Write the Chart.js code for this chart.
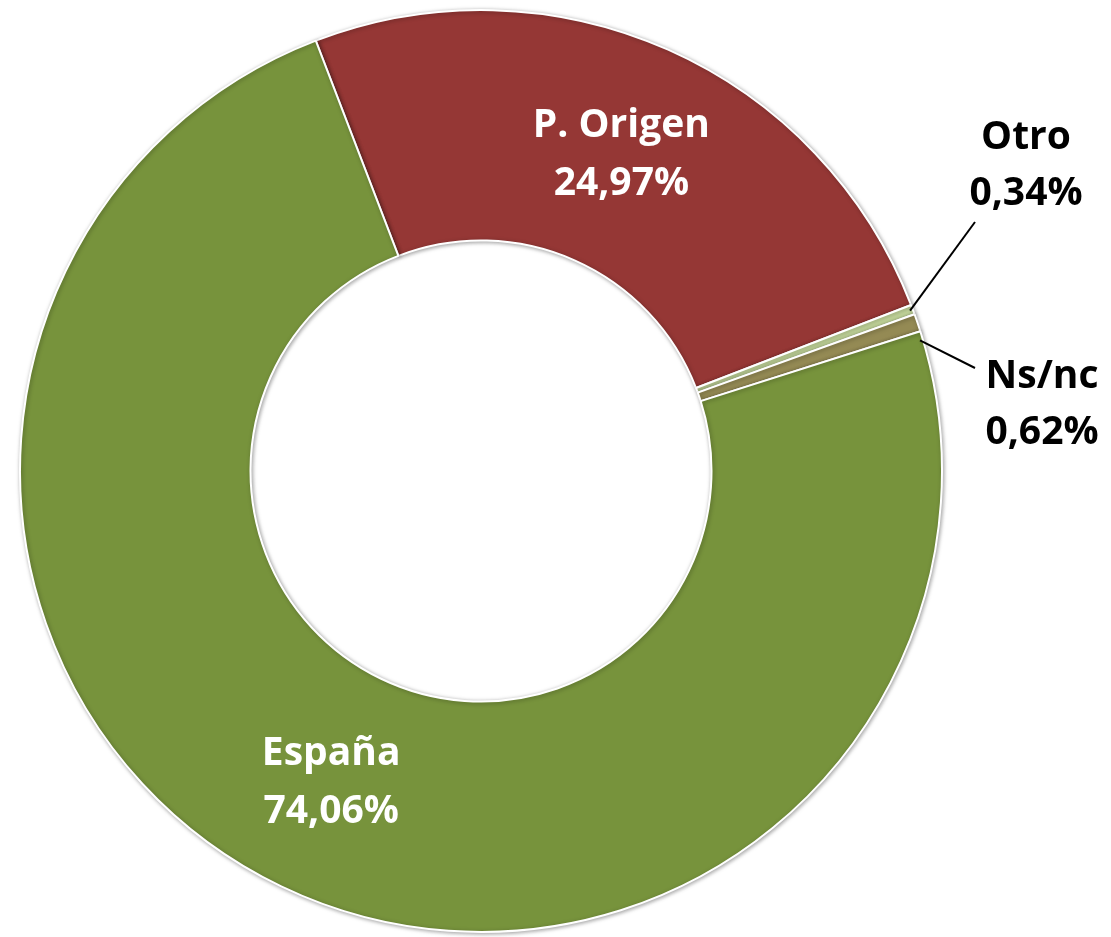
<!DOCTYPE html>
<html>
<head>
<meta charset="utf-8">
<script src="https://cdn.jsdelivr.net/npm/chart.js@4/dist/chart.umd.min.js"></script>
<style>
  html, body { margin: 0; padding: 0; background: #fff; }
  #wrap { width: 1111px; height: 937px; }
</style>
</head>
<body>
<div id="wrap"><canvas id="originChart" width="1111" height="937"></canvas></div>
<script>
// Data (clockwise from the top-left boundary)
const categories = ['P. Origen', 'Otro', 'Ns/nc', 'España'];
const percents = [24.97, 0.34, 0.62, 74.06];
const sliceColors = ['#953735', '#C3D69B', '#948A54', '#77933C'];

// label placement: inside ring (white) or outside with a leader line
const labelStyles = [
  { inside: true },
  { inside: false, shift: 0, labelAt: [1026, 166], lineTo: [975, 222] },
  { inside: false, shift: 2.2, labelAt: [1042, 405], lineTo: [975, 368] },
  { inside: true }
];

const FONT = 'bold 39px "Open Sans", "Liberation Sans", sans-serif';

const fmt = v => v.toFixed(2).replace('.', ',') + '%';

// soft shadow like the original office chart
const shadowPlugin = {
  id: 'shadow',
  beforeDatasetsDraw(chart) {
    const ctx = chart.ctx;
    ctx.save();
    ctx.shadowColor = 'rgba(0,0,0,0.35)';
    ctx.shadowBlur = 4;
    ctx.shadowOffsetX = 1;
    ctx.shadowOffsetY = 1;
  },
  afterDatasetsDraw(chart) {
    chart.ctx.restore();
  }
};

const labelPlugin = {
  id: 'sliceLabels',
  afterDraw(chart) {
    const ctx = chart.ctx;
    const meta = chart.getDatasetMeta(0);
    ctx.save();
    ctx.font = FONT;
    ctx.textAlign = 'center';
    ctx.textBaseline = 'middle';
    meta.data.forEach((arc, i) => {
      const st = labelStyles[i];
      const lines = [categories[i], fmt(percents[i])];
      if (st.inside) {
        const p = arc.tooltipPosition();
        ctx.fillStyle = '#ffffff';
        ctx.fillText(lines[0], p.x, p.y - 29);
        ctx.fillText(lines[1], p.x, p.y + 29);
      } else {
        const mid = (arc.startAngle + arc.endAngle) / 2 + st.shift * Math.PI / 180;
        const ax = arc.x + Math.cos(mid) * (arc.outerRadius - 3);
        const ay = arc.y + Math.sin(mid) * (arc.outerRadius - 3);
        ctx.strokeStyle = '#000';
        ctx.lineWidth = 2;
        ctx.beginPath();
        ctx.moveTo(ax, ay);
        ctx.lineTo(st.lineTo[0], st.lineTo[1]);
        ctx.stroke();
        const [cx, cy] = st.labelAt;
        ctx.fillStyle = '#000000';
        ctx.fillText(lines[0], cx, cy - 28);
        ctx.fillText(lines[1], cx, cy + 28);
      }
    });
    ctx.restore();
  }
};

new Chart(document.getElementById('originChart').getContext('2d'), {
  type: 'doughnut',
  data: {
    labels: categories,
    datasets: [{
      data: percents,
      backgroundColor: sliceColors,
      borderColor: '#ffffff',
      borderWidth: 2
    }]
  },
  options: {
    responsive: false,
    animation: false,
    rotation: -21,
    cutout: '50%',
    layout: { padding: { left: 19, right: 168, top: 9, bottom: 4 } },
    plugins: {
      legend: { display: false },
      tooltip: { enabled: false }
    }
  },
  plugins: [shadowPlugin, labelPlugin]
});
</script>
</body>
</html>
